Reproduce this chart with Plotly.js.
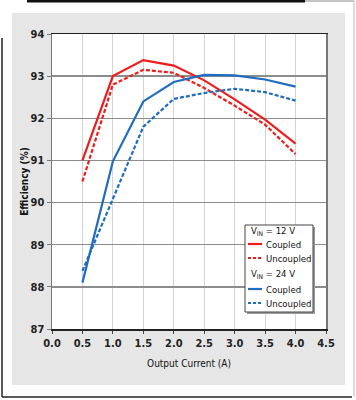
<!DOCTYPE html>
<html>
<head>
<meta charset="utf-8">
<script src="https://cdn.plot.ly/plotly-3.0.1.min.js"></script>
<style>html,body{margin:0;padding:0;background:#fff;}#chart{width:356px;height:400px;}</style>
</head>
<body>
<div id="chart"></div>
<script>
const current = [0.5, 1.0, 1.5, 2.0, 2.5, 3.0, 3.5, 4.0];
const v12Coupled   = [91.0, 93.0, 93.38, 93.25, 92.9, 92.45, 91.97, 91.4];
const v12Uncoupled = [90.5, 92.8, 93.15, 93.08, 92.72, 92.3, 91.85, 91.15];
const v24Coupled   = [88.1, 90.98, 92.4, 92.86, 93.03, 93.02, 92.92, 92.75];
const v24Uncoupled = [88.38, 90.1, 91.8, 92.46, 92.6, 92.7, 92.62, 92.42];
const xTicks = [0.0, 0.5, 1.0, 1.5, 2.0, 2.5, 3.0, 3.5, 4.0, 4.5];
const yTicks = [87, 88, 89, 90, 91, 92, 93, 94];
const groupTitles = ['V<sub>IN</sub> = 12 V', 'V<sub>IN</sub> = 24 V'];
const seriesNames = ['Coupled', 'Uncoupled'];

const red = '#f01c1c', blue = '#1f6cc0';
const FONT = '"Liberation Sans Narrow", "DejaVu Sans Condensed", "Liberation Sans", Arial, sans-serif';

const traces = [
  {x: current, y: v12Coupled, name: seriesNames[0], legendgroup: 'g12',
   mode: 'lines', line: {color: red, width: 2.2}},
  {x: current, y: v12Uncoupled, name: seriesNames[1], legendgroup: 'g12',
   mode: 'lines', line: {color: red, width: 2.2, dash: '4px,2px'}},
  {x: current, y: v24Coupled, name: seriesNames[0], legendgroup: 'g24',
   mode: 'lines', line: {color: blue, width: 2.2}},
  {x: current, y: v24Uncoupled, name: seriesNames[1], legendgroup: 'g24',
   mode: 'lines', line: {color: blue, width: 2.2, dash: '4px,2px'}}
];

const L = 52, R = 326, T = 34, B = 329;
const px = v => (v - L) / (R - L);
const py = v => (B - v) / (B - T);

const shapes = [
  {type: 'rect', xref: 'paper', yref: 'paper', layer: 'below',
   x0: px(12), x1: px(345), y0: py(385), y1: py(13),
   fillcolor: '#e6e6e6', line: {width: 0}},
  {type: 'rect', xref: 'paper', yref: 'paper', layer: 'below',
   x0: 0, x1: 1, y0: 0, y1: 1, fillcolor: '#ffffff', line: {width: 0}},
  {type: 'line', xref: 'paper', yref: 'paper', x0: px(2), x1: px(2), y0: py(397), y1: py(38),
   line: {color: '#222', width: 1.5}},
  {type: 'line', xref: 'paper', yref: 'paper', x0: px(2), x1: px(352), y0: py(397), y1: py(397),
   line: {color: '#222', width: 1.5}},
  {type: 'line', xref: 'paper', yref: 'paper', x0: px(27), x1: px(305), y0: py(1), y1: py(1),
   line: {color: '#111', width: 3}},
  {type: 'line', xref: 'paper', yref: 'paper', x0: px(305), x1: px(354), y0: py(1), y1: py(1),
   line: {color: '#888', width: 1}},
  {type: 'line', xref: 'paper', yref: 'paper', x0: px(354), x1: px(354), y0: py(397), y1: py(1),
   line: {color: '#bbb', width: 1}},
  // legend box with shadow
  {type: 'rect', xref: 'paper', yref: 'paper', x0: px(247), x1: px(315), y0: py(314), y1: py(227),
   fillcolor: '#9a9a9a', line: {width: 0}},
  {type: 'rect', xref: 'paper', yref: 'paper', x0: px(245), x1: px(313), y0: py(312), y1: py(225),
   fillcolor: '#ffffff', line: {color: '#444', width: 1}}
];

const annotations = [];
const legendRows = [231, 244, 258, 274, 289, 303];
const legendFont = {family: FONT, size: 9.5, color: '#111'};
let row = 0;
[0, 1].forEach(g => {
  annotations.push({xref: 'paper', yref: 'paper', x: px(249), y: py(legendRows[row]),
    xanchor: 'left', yanchor: 'middle', showarrow: false, text: groupTitles[g], font: legendFont});
  row++;
  [0, 1].forEach(s => {
    const tr = traces[g * 2 + s];
    const yy = py(legendRows[row]);
    shapes.push({type: 'line', xref: 'paper', yref: 'paper', x0: px(248), x1: px(262), y0: yy, y1: yy,
      line: {color: tr.line.color, width: 2.2, dash: tr.line.dash ? '3px,2px' : 'solid'}});
    annotations.push({xref: 'paper', yref: 'paper', x: px(264), y: yy,
      xanchor: 'left', yanchor: 'middle', showarrow: false, text: tr.name, font: legendFont});
    row++;
  });
});

const layout = {
  width: 356, height: 400,
  margin: {l: L, r: 356 - R, t: T, b: 400 - B, pad: 0},
  paper_bgcolor: '#ffffff', plot_bgcolor: '#ffffff',
  font: {family: FONT, color: '#111', size: 11},
  showlegend: false,
  xaxis: {
    range: [0, 4.5], tickvals: xTicks, ticktext: xTicks.map(v => v.toFixed(1)),
    showgrid: true, gridcolor: '#d4d4d4', gridwidth: 1,
    showline: true, linecolor: '#222', linewidth: 1.5, mirror: true,
    ticks: 'outside', ticklen: 3, tickcolor: '#444',
    tickfont: {family: FONT, size: 11, color: '#222', weight: 'bold'},
    zeroline: false,
    title: {text: 'Output Current (A)', font: {family: FONT, size: 10, color: '#111'}, standoff: 11}
  },
  yaxis: {
    range: [87, 94], tickvals: yTicks,
    showgrid: true, gridcolor: '#8c8c8c', gridwidth: 1.5,
    showline: true, linecolor: '#777', linewidth: 1.5, mirror: true,
    ticks: 'outside', ticklen: 4, tickcolor: '#777',
    tickfont: {family: FONT, size: 11, color: '#222', weight: 'bold'},
    zeroline: false,
    title: {text: 'Efficiency (%)', font: {family: FONT, size: 10, color: '#111', weight: 'bold'}, standoff: 0}
  },
  shapes: shapes,
  annotations: annotations
};

Plotly.newPlot('chart', traces, layout, {displayModeBar: false, staticPlot: true});
</script>
</body>
</html>
